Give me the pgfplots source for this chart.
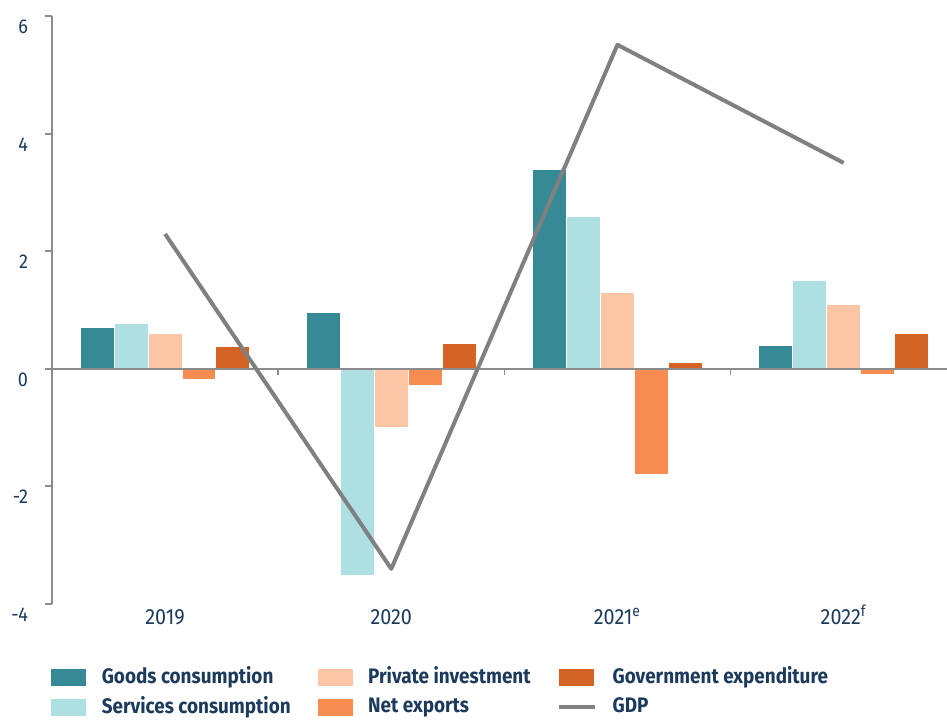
\documentclass[border=0pt]{standalone}
\usepackage{fontspec}
\setmainfont{Fira Sans}[FakeStretch=0.9]
\usepackage{pgfplots}
\pgfplotsset{compat=1.18}
\definecolor{goods}{HTML}{368A96}
\definecolor{serv}{HTML}{AEDFE3}
\definecolor{priv}{HTML}{FBC5A6}
\definecolor{netx}{HTML}{F78C50}
\definecolor{gov}{HTML}{D36426}
\definecolor{gdp}{HTML}{808080}
\definecolor{navy}{HTML}{1B3A5C}
\definecolor{axisgray}{HTML}{8C8C8C}
\begin{document}
\begin{tikzpicture}
\path[use as bounding box] (0,0) rectangle (473.5pt,359.5pt);
\begin{axis}[
  at={(26pt,57.75pt)}, anchor=south west,
  scale only axis, width=447.5pt, height=293.75pt,
  xmin=-0.5, xmax=3.457, ymin=-4, ymax=6,
  clip=false,
  axis y line*=left, axis x line*=bottom,
  x axis line style={draw=none},
  y axis line style={draw=axisgray, line width=1pt},
  ytick={-4,-2,0,2,4,6}, yticklabels={-4,-2,0,2,4,6},
  ytick style={draw=axisgray, line width=1pt},
  tick align=outside, major tick length=3.5pt,
  xtick={0,1,2,3},
  xticklabels={2019,2020,2021\textsuperscript{e},2022\textsuperscript{f}},
  xtick style={draw=none},
  yticklabel style={font=\fontsize{10}{12}\selectfont, text=navy, yshift=-5.5pt, xshift=-5pt},
  xticklabel style={font=\fontsize{11}{13}\selectfont, text=navy, anchor=base, yshift=-6.75pt},
  legend columns=3,
  legend style={at={(0,0)}, anchor=north west, xshift=-0.5pt, yshift=-31.5pt,
    draw=none, fill=none, inner sep=0pt,
    font=\bfseries\fontsize{10.5}{12}\selectfont, text=navy,
    cells={anchor=west}, nodes={inner sep=0pt},
    row sep=5pt,
    /tikz/every odd column/.append style={column sep=7.8pt},
    /tikz/every even column/.append style={column sep=13.5pt}},
]
\addplot[forget plot, ybar, bar width=0.15, bar shift=-0.3, fill=goods, draw=white, line width=0.5pt]
  coordinates {(0,0.70) (1,0.95) (2,3.39) (3,0.39)};
\addplot[forget plot, ybar, bar width=0.15, bar shift=-0.15, fill=serv, draw=white, line width=0.5pt]
  coordinates {(0,0.77) (1,-3.53) (2,2.59) (3,1.49)};
\addplot[forget plot, ybar, bar width=0.15, bar shift=0, fill=priv, draw=white, line width=0.5pt]
  coordinates {(0,0.59) (1,-1.0) (2,1.30) (3,1.09)};
\addplot[forget plot, ybar, bar width=0.15, bar shift=0.15, fill=netx, draw=white, line width=0.5pt]
  coordinates {(0,-0.18) (1,-0.29) (2,-1.80) (3,-0.10)};
\addplot[forget plot, ybar, bar width=0.15, bar shift=0.3, fill=gov, draw=white, line width=0.5pt]
  coordinates {(0,0.37) (1,0.42) (2,0.10) (3,0.59)};
\draw[axisgray, line width=1pt] (axis cs:-0.5,0) -- (axis cs:3.457,0);
\draw[axisgray, line width=0.8pt] (axis cs:0.5,0) -- ([yshift=-3pt]axis cs:0.5,0);
\draw[axisgray, line width=0.8pt] (axis cs:1.5,0) -- ([yshift=-3pt]axis cs:1.5,0);
\draw[axisgray, line width=0.8pt] (axis cs:2.5,0) -- ([yshift=-3pt]axis cs:2.5,0);
\addplot[forget plot, gdp, line width=2pt, no markers, sharp plot, line join=round]
  coordinates {(0,2.29) (1,-3.41) (2,5.51) (3,3.50)};
\addlegendimage{legend image code/.code={\fill[goods] (0pt,-4pt) rectangle (17pt,4pt);}}
\addlegendentry{Goods consumption}
\addlegendimage{legend image code/.code={\fill[priv] (0pt,-4pt) rectangle (17pt,4pt);}}
\addlegendentry{Private investment}
\addlegendimage{legend image code/.code={\fill[gov] (0pt,-4pt) rectangle (17pt,4pt);}}
\addlegendentry{Government expenditure}
\addlegendimage{legend image code/.code={\fill[serv] (0pt,-4pt) rectangle (17pt,4pt);}}
\addlegendentry{Services consumption}
\addlegendimage{legend image code/.code={\fill[netx] (0pt,-4pt) rectangle (17pt,4pt);}}
\addlegendentry{Net exports}
\addlegendimage{legend image code/.code={\draw[gdp, line width=1.7pt] (0pt,0pt) -- (18pt,0pt);}}
\addlegendentry{GDP}
\end{axis}
\end{tikzpicture}
\end{document}
